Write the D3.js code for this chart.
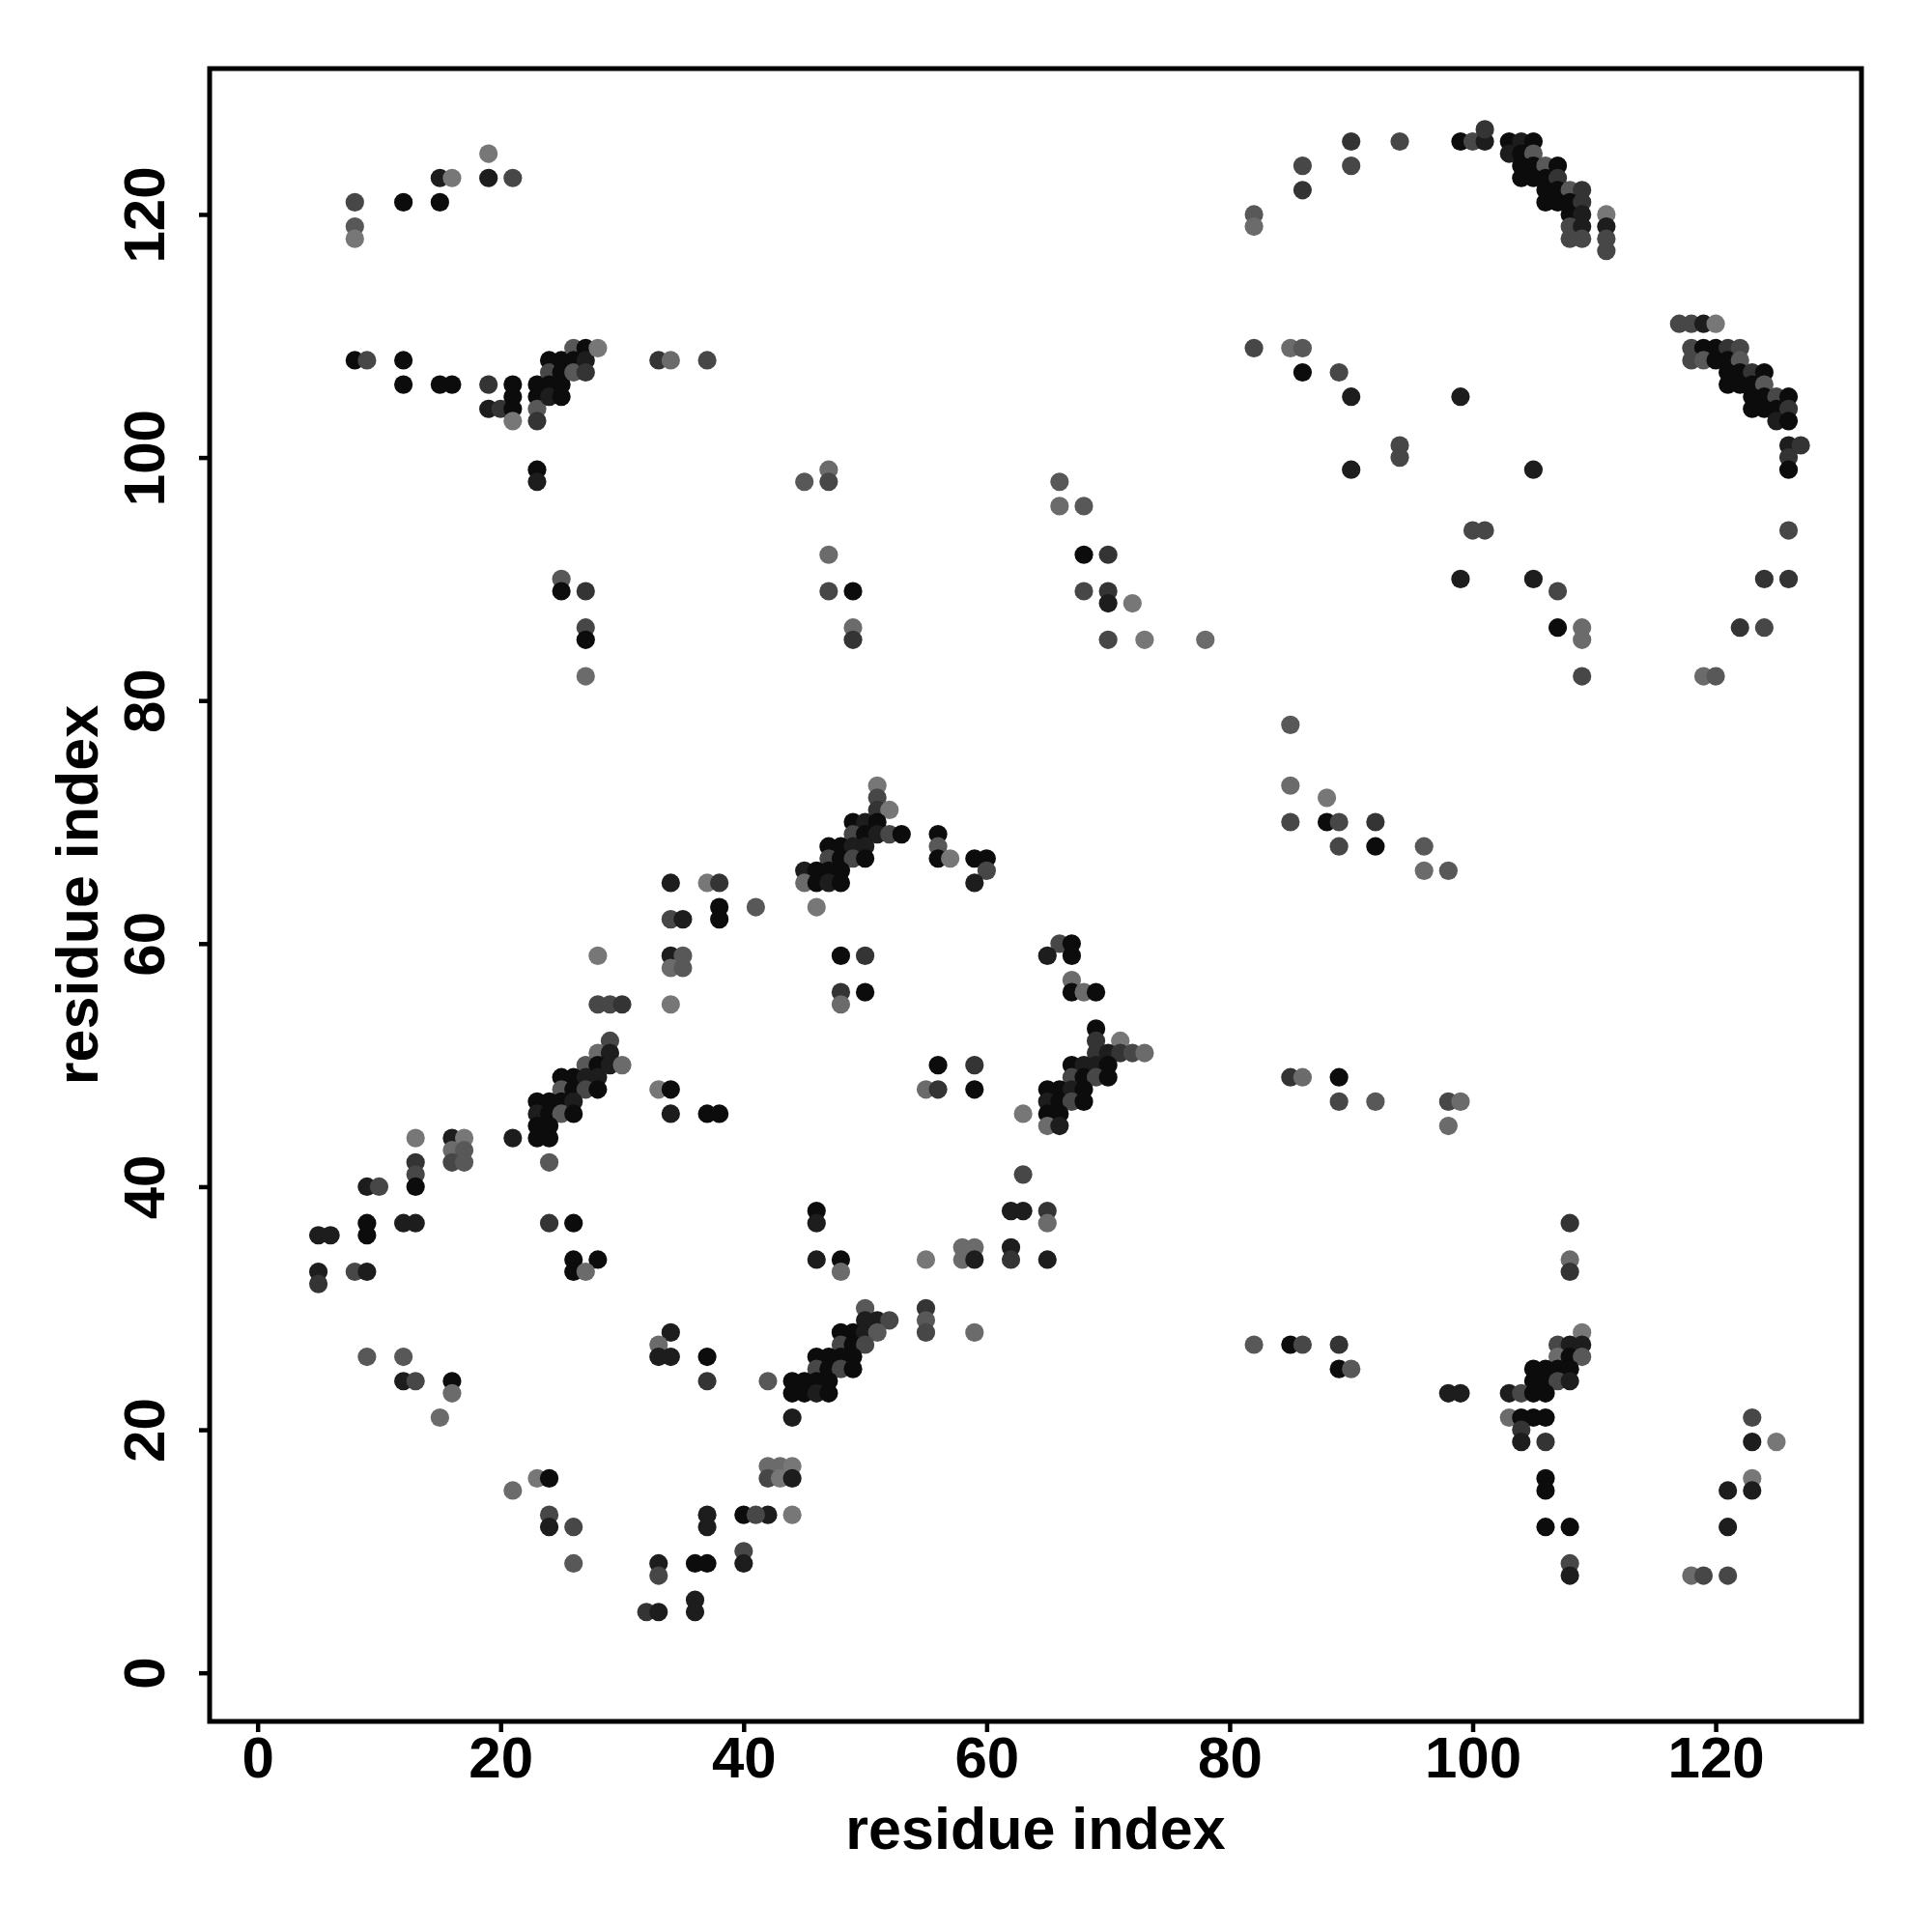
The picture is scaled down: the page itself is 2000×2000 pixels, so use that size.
<!DOCTYPE html>
<html><head><meta charset="utf-8">
<script src="https://cdn.jsdelivr.net/npm/d3@7"></script>
<style>body{margin:0;background:#fff}</style>
</head><body>
<script>
// residue i (x), residue j (y), contact score (darker = higher)
const resI = [
8,8,8,12,15,15,16,19,19,21,
8,9,12,12,15,16,19,19,20,21,21,21,21,23,23,23,23,24,24,24,24,25,25,25,25,26,26,26,27,27,27,28,33,34,37,
23,23,25,25,27,27,27,27,34,37,38,
45,47,47,66,47,47,49,49,49,66,68,68,70,68,70,70,72,70,73,78,85,85,85,
51,51,51,52,49,50,51,49,50,51,52,53,47,48,49,50,47,48,49,50,45,46,47,48,45,46,47,48,56,56,56,57,59,60,60,59,
100,101,126,99,105,107,107,109,109,109,124,126,122,124,119,120,88,88,89,92,89,92,96,96,98,
90,94,90,86,86,82,82,99,100,101,101,103,104,105,103,104,105,104,105,106,107,104,105,106,107,106,107,108,109,106,107,108,109,108,109,111,108,109,111,108,109,111,111,
117,118,119,120,118,119,120,121,122,118,119,120,121,122,121,122,123,124,121,122,123,124,123,124,125,126,123,124,125,126,125,126,126,127,126,126,
89,90,99,94,94,90,105,82,85,86,86,
38,38,41,34,35,28,34,35,34,35,28,29,30,34,29,28,29,27,28,29,30,25,26,27,28,25,26,27,28,23,24,25,26,23,24,25,26,23,24,23,24,21,24,33,34,34,37,38,13,16,17,16,17,16,17,13,13,13,9,10,9,9,12,13,5,6,5,5,8,9,24,26,26,28,26,27,
46,48,50,48,50,48,66,67,65,67,67,67,68,69,69,69,71,69,70,71,72,73,67,68,69,70,67,68,69,70,65,66,67,68,65,66,67,68,65,66,63,65,66,56,59,55,56,59,85,86,63,62,63,65,65,46,46,46,48,48,55,58,59,58,59,62,62,65,50,55,
55,55,59,50,51,52,48,49,50,51,48,49,50,46,47,48,49,46,47,48,49,44,45,46,47,42,44,45,46,47,44,42,43,44,42,43,44,42,44,82,85,86,
9,12,12,13,16,16,15,34,33,33,34,37,37,21,23,24,24,24,26,26,37,37,40,41,40,40,33,33,36,37,32,33,36,36,
89,89,90,98,99,109,107,108,109,107,108,109,105,106,107,108,105,106,107,108,103,104,105,106,103,104,105,106,104,104,106,106,106,106,108,108,108,123,123,125,123,123,121,121,118,119,121,
89,89,92,98,99,98,108,108,108
];
const resJ = [
121,119,118,121,121,123,123,123,125,123,
108,108,108,106,106,106,106,104,104,106,105,104,103,106,105,104,103,108,107,106,105,108,107,106,105,109,108,107,109,108,107,109,108,108,108,
99,98,90,89,89,86,85,82,65,65,65,
98,99,98,98,92,89,89,86,85,96,96,92,92,89,89,88,88,85,85,85,78,73,70,
73,72,71,71,70,70,70,69,69,69,69,69,68,68,68,68,67,67,67,67,66,66,66,66,65,65,65,65,69,68,67,67,67,67,66,65,
94,94,94,90,90,89,86,86,85,82,90,90,86,86,82,82,72,70,70,70,68,68,68,66,66,
126,126,124,124,122,120,119,126,126,126,127,126,126,126,125,125,125,124,124,124,124,123,123,123,123,122,122,122,122,121,121,121,121,120,120,120,119,119,119,118,118,118,117,
111,111,111,111,109,109,109,109,109,108,108,108,108,108,107,107,107,107,106,106,106,106,105,105,105,105,104,104,104,104,103,103,101,101,100,99,
107,105,105,101,100,99,99,109,109,109,107,
63,62,63,62,62,59,59,59,58,58,55,55,55,55,52,51,51,50,50,50,50,49,49,49,49,48,48,48,48,47,47,47,47,46,46,46,46,45,45,44,44,44,42,48,48,46,46,46,44,44,44,43,43,42,42,42,41,40,40,40,37,36,37,37,36,36,33,32,33,33,37,37,34,34,33,33,
63,59,59,56,56,55,60,60,59,59,57,56,56,56,53,52,52,51,51,51,51,51,50,50,50,50,49,49,49,49,48,48,48,48,47,47,47,47,46,46,46,45,45,50,50,48,48,48,49,49,41,38,38,38,37,38,37,34,34,33,34,35,35,34,34,35,34,34,30,30,
29,28,28,29,29,29,28,28,28,28,27,27,27,26,26,26,26,25,25,25,25,24,24,24,24,24,23,23,23,23,21,17,17,17,16,16,16,13,13,27,27,27,
26,26,24,24,24,23,21,28,27,26,26,26,24,15,16,16,13,12,12,9,13,12,13,13,10,9,9,8,9,9,5,5,6,5,
27,25,25,23,23,28,27,27,27,26,26,26,25,25,25,25,24,24,24,24,23,23,23,23,21,21,21,21,20,19,19,16,15,12,12,9,8,21,19,19,16,15,15,12,8,8,8,
49,47,47,47,47,45,37,34,33
];
const score = [
.7,.63,.5,.95,.95,.88,.5,.88,.5,.7,
.95,.7,.95,.95,.95,.95,.78,.88,.78,.95,.95,.95,.5,.95,.95,.63,.78,.95,.7,.95,.88,.95,.95,.95,.95,.63,.95,.63,.95,.88,.78,.5,.78,.55,.7,
.95,.88,.63,.95,.78,.7,.95,.55,.88,.5,.78,
.63,.55,.7,.63,.55,.7,.95,.55,.78,.55,.63,.95,.78,.7,.78,.88,.5,.7,.5,.55,.63,.55,.7,
.5,.7,.78,.5,.95,.88,.95,.7,.95,.88,.7,.95,.95,.95,.88,.88,.7,.95,.7,.95,.88,.95,.95,.95,.55,.95,.88,.95,.95,.63,.95,.5,.95,.95,.7,.88,
.7,.7,.7,.88,.88,.7,.95,.55,.55,.7,.78,.78,.78,.7,.55,.63,.5,.95,.7,.78,.7,.95,.63,.55,.63,
.78,.7,.7,.7,.78,.63,.55,.95,.7,.88,.78,.95,.88,.95,.88,.95,.63,.95,.95,.63,.95,.95,.95,.95,.78,.95,.95,.63,.78,.95,.95,.95,.78,.95,.88,.5,.7,.88,.88,.7,.7,.7,.7,
.7,.7,.88,.5,.7,.95,.95,.78,.7,.7,.63,.95,.95,.63,.95,.95,.78,.95,.95,.95,.95,.63,.95,.95,.7,.95,.95,.95,.95,.78,.88,.95,.88,.78,.78,.95,
.7,.88,.88,.7,.7,.88,.88,.7,.55,.63,.95,
.95,.95,.63,.7,.88,.5,.88,.63,.55,.63,.7,.7,.78,.5,.7,.55,.88,.63,.95,.88,.55,.95,.95,.88,.88,.63,.95,.7,.95,.95,.95,.95,.88,.88,.95,.63,.95,.95,.95,.95,.95,.88,.63,.5,.95,.88,.95,.95,.5,.88,.5,.55,.63,.7,.63,.78,.7,.95,.88,.7,.95,.95,.88,.88,.88,.88,.88,.78,.7,.88,.78,.95,.95,.95,.95,.55,
.5,.95,.78,.78,.95,.55,.7,.95,.88,.95,.55,.95,.55,.95,.95,.78,.5,.78,.88,.78,.7,.55,.95,.88,.88,.95,.7,.95,.7,.95,.95,.95,.88,.95,.88,.95,.7,.95,.95,.95,.5,.55,.88,.95,.78,.55,.78,.95,.78,.55,.7,.88,.88,.78,.55,.95,.88,.88,.95,.55,.5,.55,.55,.55,.88,.88,.78,.88,.63,.78,
.63,.7,.55,.88,.88,.7,.95,.95,.88,.63,.7,.95,.7,.95,.95,.95,.95,.7,.95,.7,.95,.95,.95,.95,.95,.63,.95,.95,.88,.95,.88,.55,.55,.5,.7,.5,.88,.88,.5,.63,.95,.7,
.63,.63,.88,.7,.95,.55,.55,.88,.55,.88,.88,.95,.78,.55,.5,.95,.7,.88,.7,.63,.88,.88,.95,.7,.7,.88,.88,.7,.95,.95,.78,.88,.88,.88,
.78,.95,.63,.88,.88,.5,.7,.88,.88,.55,.95,.63,.95,.95,.95,.95,.95,.95,.7,.88,.88,.7,.95,.95,.55,.95,.95,.95,.78,.88,.78,.95,.95,.95,.95,.7,.88,.7,.88,.5,.5,.88,.88,.88,.55,.7,.7,
.95,.7,.63,.7,.55,.55,.78,.55,.78
];
const xTicks = [0,20,40,60,80,100,120];
const yTicks = [0,20,40,60,80,100,120];
const xTitle = "residue index";
const yTitle = "residue index";

const W = 2000, H = 2000;
const L = 217, R = 1927, T = 71, B = 1782;
const FONT = "'Liberation Sans', Arial, Helvetica, sans-serif";
const FS = 60;

const svg = d3.select("body").append("svg")
  .attr("width", W).attr("height", H)
  .style("display", "block");
svg.append("rect").attr("width", W).attr("height", H).attr("fill", "#fff");

const x = d3.scaleLinear().domain([-3.95, 132]).range([L, R]);
const y = d3.scaleLinear().domain([-4, 132]).range([B, T]);
const shade = d3.scaleLinear().domain([0.5, 1]).range(["#777777", "#000000"]);

const data = resI.map((d, k) => ({i: d, j: resJ[k], s: score[k]}));

svg.append("g").selectAll("circle").data(data).join("circle")
  .attr("cx", d => x(d.i))
  .attr("cy", d => y(d.j))
  .attr("r", 9.6)
  .attr("fill", d => shade(d.s));

// frame
svg.append("rect").attr("x", L).attr("y", T).attr("width", R - L).attr("height", B - T)
  .attr("fill", "none").attr("stroke", "#000").attr("stroke-width", 5);

// x axis
const gx = svg.append("g").attr("transform", `translate(0,${B})`)
  .call(d3.axisBottom(x).tickValues(xTicks).tickSize(11).tickSizeOuter(0).tickFormat(d3.format("d")));
gx.select(".domain").remove();
gx.selectAll(".tick line").attr("stroke", "#000").attr("stroke-width", 4.5);
gx.selectAll(".tick text").attr("y", 58).attr("dy", null)
  .attr("font-family", FONT).attr("font-size", FS).attr("font-weight", "bold").attr("fill", "#000");

// y axis
const gy = svg.append("g").attr("transform", `translate(${L},0)`)
  .call(d3.axisLeft(y).tickValues(yTicks).tickSize(11).tickSizeOuter(0).tickFormat(d3.format("d")));
gy.select(".domain").remove();
gy.selectAll(".tick line").attr("stroke", "#000").attr("stroke-width", 4.5);
gy.selectAll(".tick text")
  .attr("x", null).attr("dy", null)
  .attr("text-anchor", "middle")
  .attr("transform", "translate(-47,0) rotate(-90)")
  .attr("font-family", FONT).attr("font-size", FS).attr("font-weight", "bold").attr("fill", "#000");

// titles
svg.append("text").attr("x", (L + R) / 2).attr("y", 1914)
  .attr("text-anchor", "middle").attr("font-family", FONT).attr("font-size", FS + 1)
  .attr("font-weight", "bold").text(xTitle);
svg.append("text").attr("transform", `translate(101,${(T + B) / 2}) rotate(-90)`)
  .attr("text-anchor", "middle").attr("font-family", FONT).attr("font-size", FS + 1)
  .attr("font-weight", "bold").text(yTitle);
</script>
</body></html>
